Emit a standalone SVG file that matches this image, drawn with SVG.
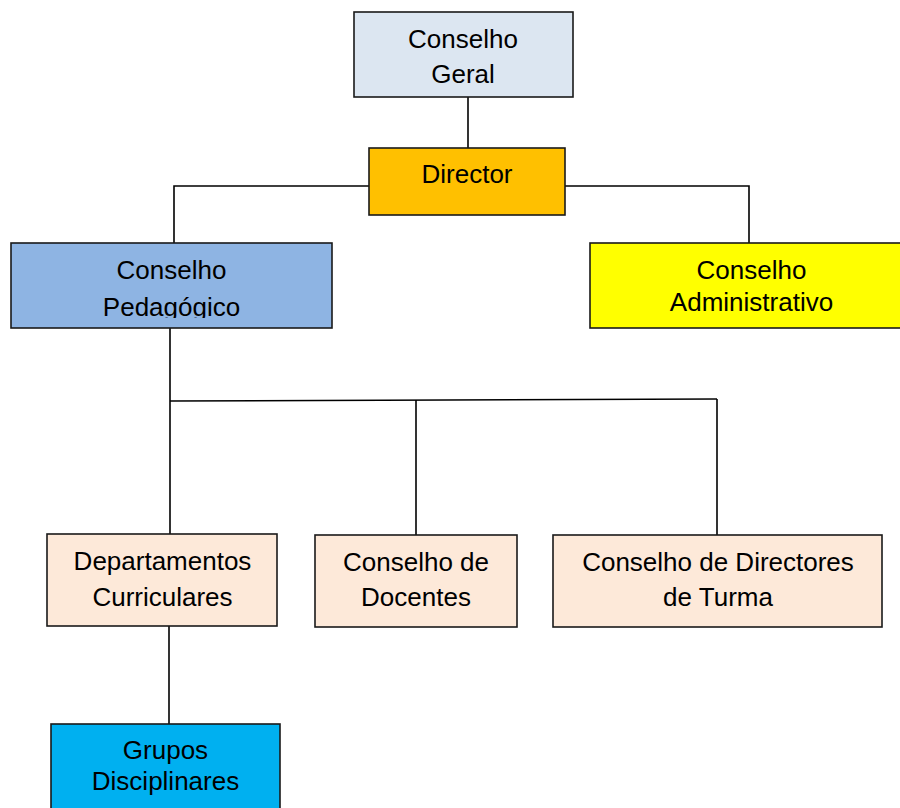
<svg xmlns="http://www.w3.org/2000/svg" width="900" height="808" viewBox="0 0 900 808">
<style>
.box{stroke:#1a1a1a;stroke-width:1.6}
.t{font-family:"Liberation Sans",Arial,sans-serif;font-size:26px;fill:#000;text-anchor:middle}
.ln{stroke:#000;stroke-width:1.6;fill:none}
</style>
<defs>
<clipPath id="clipPed"><rect x="11" y="243" width="322" height="75"/></clipPath>
</defs>
<rect width="900" height="808" fill="#fff"/>
<g id="connectors">
<line class="ln" x1="468" y1="97" x2="468" y2="148"/>
<polyline class="ln" points="369,186 174,186 174,243"/>
<polyline class="ln" points="565,186 749,186 749,243"/>
<line class="ln" x1="170" y1="328" x2="170" y2="401"/>
<line class="ln" x1="170" y1="401" x2="717" y2="399"/>
<line class="ln" x1="170" y1="401" x2="170" y2="534"/>
<line class="ln" x1="416" y1="400" x2="416" y2="535"/>
<line class="ln" x1="717" y1="399" x2="717" y2="535"/>
<line class="ln" x1="169" y1="626" x2="169" y2="724"/>
</g>
<g id="conselho-geral">
<rect class="box" x="354" y="12" width="219" height="85" fill="#DCE6F1"/>
<text class="t" x="463" y="48">Conselho</text>
<text class="t" x="463" y="83">Geral</text>
</g>
<g id="director">
<rect class="box" x="369" y="148" width="196" height="67" fill="#FFC000"/>
<text class="t" x="467" y="183">Director</text>
</g>
<g id="conselho-pedagogico">
<rect class="box" x="11" y="243" width="321" height="85" fill="#8EB4E3"/>
<g clip-path="url(#clipPed)">
<text class="t" x="171.5" y="279">Conselho</text>
<text class="t" x="171.5" y="316">Pedagógico</text>
</g>
</g>
<g id="conselho-administrativo">
<rect class="box" x="590" y="243" width="330" height="85" fill="#FFFF00"/>
<text class="t" x="751.5" y="279">Conselho</text>
<text class="t" x="751.5" y="311">Administrativo</text>
</g>
<g id="departamentos-curriculares">
<rect class="box" x="47" y="534" width="230" height="92" fill="#FDE9D9"/>
<text class="t" x="162.5" y="570">Departamentos</text>
<text class="t" x="162.5" y="606">Curriculares</text>
</g>
<g id="conselho-docentes">
<rect class="box" x="315" y="535" width="202" height="92" fill="#FDE9D9"/>
<text class="t" x="416" y="571">Conselho de</text>
<text class="t" x="416" y="606">Docentes</text>
</g>
<g id="conselho-directores-turma">
<rect class="box" x="553" y="535" width="329" height="92" fill="#FDE9D9"/>
<text class="t" x="718" y="571">Conselho de Directores</text>
<text class="t" x="718" y="606">de Turma</text>
</g>
<g id="grupos-disciplinares">
<rect class="box" x="51" y="724" width="229" height="100" fill="#00B0F0"/>
<text class="t" x="165.5" y="759">Grupos</text>
<text class="t" x="165.5" y="790">Disciplinares</text>
</g>
</svg>
